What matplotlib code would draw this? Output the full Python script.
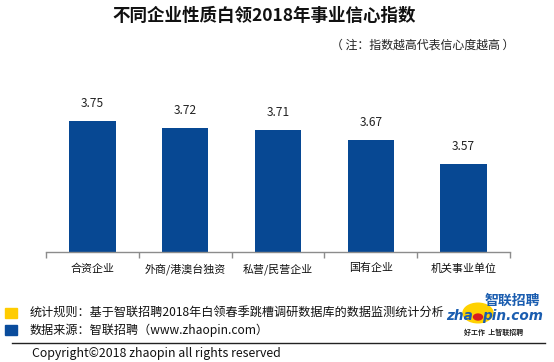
import matplotlib
matplotlib.use("Agg")
import matplotlib.pyplot as plt
from matplotlib.patches import Rectangle, Circle
import numpy as np

plt.rcParams['font.family'] = ['Noto Sans CJK SC', 'DejaVu Sans']

categories = ["合资企业", "外商/港澳台独资", "私营/民营企业", "国有企业", "机关事业单位"]
values = [3.75, 3.72, 3.71, 3.67, 3.57]
title = "不同企业性质白领2018年事业信心指数"
note = "（ 注：指数越高代表信心度越高 ）"

W, H = 554, 362
fig = plt.figure(figsize=(W / 100, H / 100), dpi=100)

def fx(x):
    return x / W

def fy(y):
    return 1 - y / H

bar_color = "#074893"

ax = fig.add_axes([fx(46), fy(252), fx(510) - fx(46), fy(85) - fy(252)])
x = np.arange(len(categories))
ax.bar(x, values, width=0.5, color=bar_color)
ax.set_ylim(3.2, 3.9)
ax.set_xlim(-0.5, len(categories) - 0.5)
for xi, v in zip(x, values):
    ax.annotate(f"{v:.2f}", (xi, v), xytext=(0, 8), textcoords="offset points",
                ha="center", va="bottom", fontsize=8.6, color="#222222")
for s in ["top", "right", "left"]:
    ax.spines[s].set_visible(False)
ax.spines["bottom"].set_color("#8c8c8c")
ax.spines["bottom"].set_linewidth(1.0)
ax.set_yticks([])
ax.set_xticks(x)
ax.set_xticklabels(categories, fontsize=7.9, color="#111111")
ax.tick_params(axis="x", which="major", length=0, pad=8)
ax.set_xticks(np.arange(-0.5, len(categories), 1.0), minor=True)
ax.tick_params(axis="x", which="minor", length=4, color="#8c8c8c", width=1.0)

fig.text(fx(264), fy(16), title, ha="center", va="center", fontsize=12.6,
         fontweight="bold", color="#111111")
fig.text(fx(514), fy(45), note, ha="right", va="center", fontsize=8.6, color="#222222")

# footnotes
fig.add_artist(Rectangle((fx(5), fy(318)), fx(12), fy(308) - fy(318),
                         transform=fig.transFigure, color="#FFCC00"))
fig.add_artist(Rectangle((fx(5), fy(335)), fx(12), fy(325) - fy(335),
                         transform=fig.transFigure, color="#0A4C9C"))
fig.text(fx(30), fy(312), "统计规则：基于智联招聘2018年白领春季跳槽调研数据库的数据监测统计分析",
         ha="left", va="center", fontsize=8.7, color="#111111")
fig.text(fx(30), fy(330), "数据来源：智联招聘（www.zhaopin.com）",
         ha="left", va="center", fontsize=8.7, color="#111111")
fig.add_artist(plt.Line2D([fx(12), fx(545)], [fy(343), fy(343)],
                          transform=fig.transFigure, color="#222222", lw=1.0))
fig.text(fx(32), fy(354), "Copyright©2018 zhaopin all rights reserved",
         ha="left", va="center", fontsize=8.9, color="#111111")

# logo approximation
fig.add_artist(Circle((fx(478), fy(313)), fx(15), transform=fig.transFigure,
                      color="#FFD200", zorder=0))
fig.text(fx(540), fy(301), "智联招聘", ha="right", va="center", fontsize=10,
         fontweight="bold", style="italic", color="#1A5DB0")
fig.text(fx(473), fy(316), "zha", ha="right", va="center", fontsize=9.8,
         fontweight="bold", style="italic", color="#1A5DB0", family="DejaVu Sans")
fig.add_artist(Circle((fx(478), fy(317)), fx(4.5), transform=fig.transFigure,
                      color="#D81E1E", zorder=3))
fig.text(fx(482), fy(316), "pin.com", ha="left", va="center", fontsize=9.8,
         fontweight="bold", style="italic", color="#1A5DB0", family="DejaVu Sans")
fig.text(fx(494), fy(332), "好工作  上智联招聘", ha="center", va="center",
         fontsize=5, fontweight="bold", color="#222222")

fig.savefig("out.png", dpi=100)
